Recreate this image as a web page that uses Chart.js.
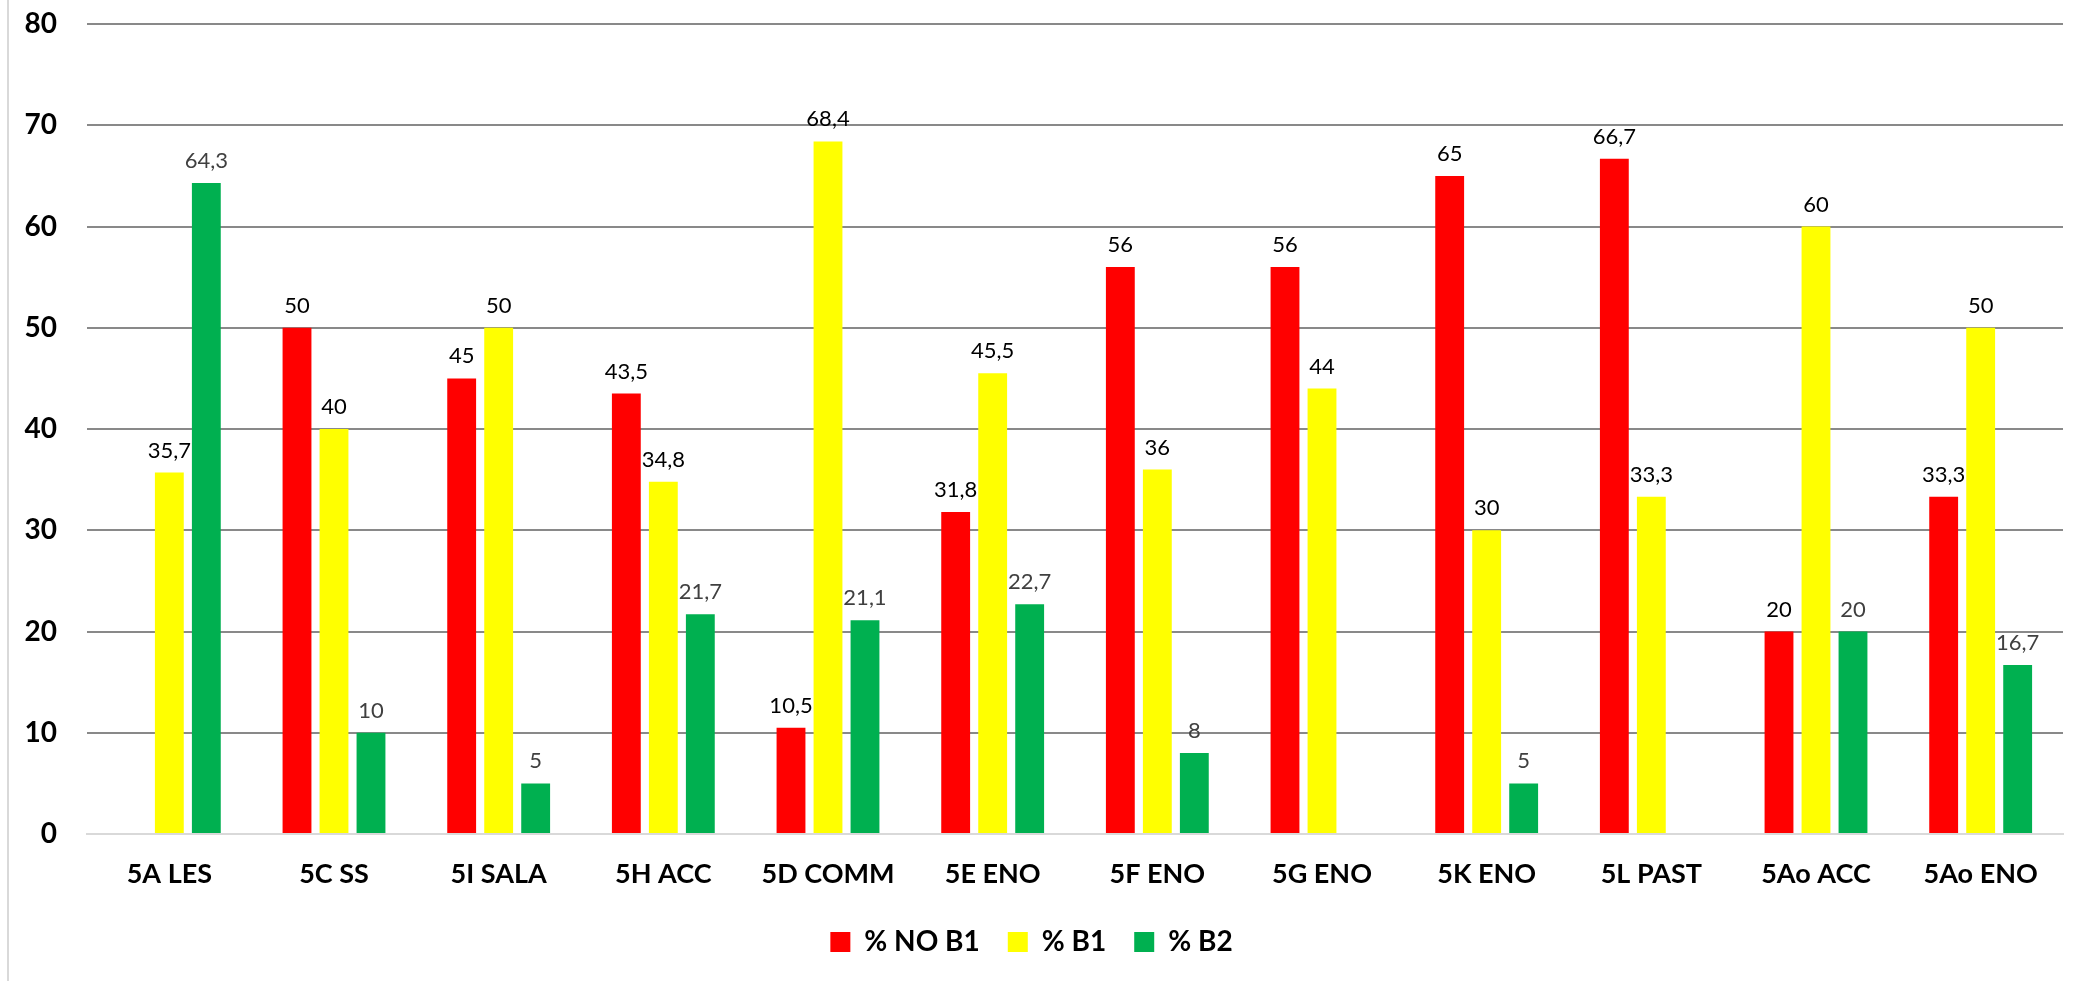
<!DOCTYPE html>
<html>
<head>
<meta charset="utf-8">
<script src="https://cdn.jsdelivr.net/npm/chart.js@4/dist/chart.umd.min.js"></script>
<style>
  html, body { margin: 0; padding: 0; background: #fff; }
  .wrap { position: relative; width: 2085px; height: 981px; }
  .frame { position: absolute; left: 7px; top: 0; width: 2px; height: 981px; background: #d9d9d9; }
  canvas { position: absolute; left: 0; top: 0; }
</style>
</head>
<body>
<div class="wrap">
  <div class="frame"></div>
  <canvas id="chart" width="2085" height="981"></canvas>
</div>
<script>
// classes and the three series (null = no bar)
const classes = ['5A LES', '5C SS', '5I SALA', '5H ACC', '5D COMM', '5E ENO', '5F ENO', '5G ENO', '5K ENO', '5L PAST', '5Ao ACC', '5Ao ENO'];
const noB1 = [null, 50, 45, 43.5, 10.5, 31.8, 56, 56, 65, 66.7, 20, 33.3];
const b1   = [35.7, 40, 50, 34.8, 68.4, 45.5, 36, 44, 30, 33.3, 60, 50];
const b2   = [64.3, 10, 5, 21.7, 21.1, 22.7, 8, null, 5, null, 20, 16.7];
const yTicks = [0, 10, 20, 30, 40, 50, 60, 70, 80];

const FONT = 'Lato, "Open Sans", sans-serif';

// value labels above each bar, comma as decimal separator
const barLabels = {
  id: 'barLabels',
  afterDatasetsDraw(chart) {
    const ctx = chart.ctx;
    ctx.save();
    ctx.font = '22px ' + FONT;
    ctx.textAlign = 'center';
    ctx.textBaseline = 'alphabetic';
    chart.data.datasets.forEach((ds, i) => {
      const meta = chart.getDatasetMeta(i);
      ctx.fillStyle = ds.labelColor;
      meta.data.forEach((bar, j) => {
        const v = ds.data[j];
        if (v === null || v === undefined) return;
        ctx.fillText(String(v).replace('.', ','), bar.x, bar.y - 15);
      });
    });
    ctx.restore();
  }
};

new Chart(document.getElementById('chart'), {
  type: 'bar',
  data: {
    labels: classes,
    datasets: [
      { label: '% NO B1', data: noB1, backgroundColor: '#ff0000', labelColor: '#000000' },
      { label: '% B1', data: b1, backgroundColor: '#ffff00', labelColor: '#000000' },
      { label: '% B2', data: b2, backgroundColor: '#00b050', labelColor: '#404040' }
    ]
  },
  options: {
    responsive: false,
    animation: false,
    devicePixelRatio: 1,
    categoryPercentage: 0.674,
    barPercentage: 0.78,
    layout: { padding: { left: 0, right: 22, top: 24, bottom: 15 } },
    plugins: {
      legend: {
        position: 'bottom',
        labels: {
          boxWidth: 20, boxHeight: 20, padding: 28,
          color: '#000',
          font: { family: FONT, size: 28, weight: 'bold' }
        }
      },
      tooltip: { enabled: false }
    },
    scales: {
      x: {
        grid: { display: false, drawTicks: false },
        border: { color: '#d9d9d9', width: 2 },
        ticks: { color: '#000', padding: 24, maxRotation: 0, font: { family: FONT, size: 27, weight: 'bold' } },
        afterFit(scale) { scale.height = 66; }
      },
      y: {
        min: 0, max: 80,
        afterBuildTicks(scale) { scale.ticks = yTicks.map(v => ({ value: v })); },
        grid: {
          drawTicks: false,
          lineWidth: 2,
          color: ctx => ctx.tick && ctx.tick.value === 0 ? '#d9d9d9' : '#898989'
        },
        border: { display: false },
        ticks: { color: '#000', padding: 30, font: { family: FONT, size: 28, weight: 'bold' } },
        afterFit(scale) {
          scale.width = 87;
          scale.paddingTop = 0;
          scale.paddingBottom = 0;
        }
      }
    }
  },
  plugins: [barLabels]
});
</script>
</body>
</html>
